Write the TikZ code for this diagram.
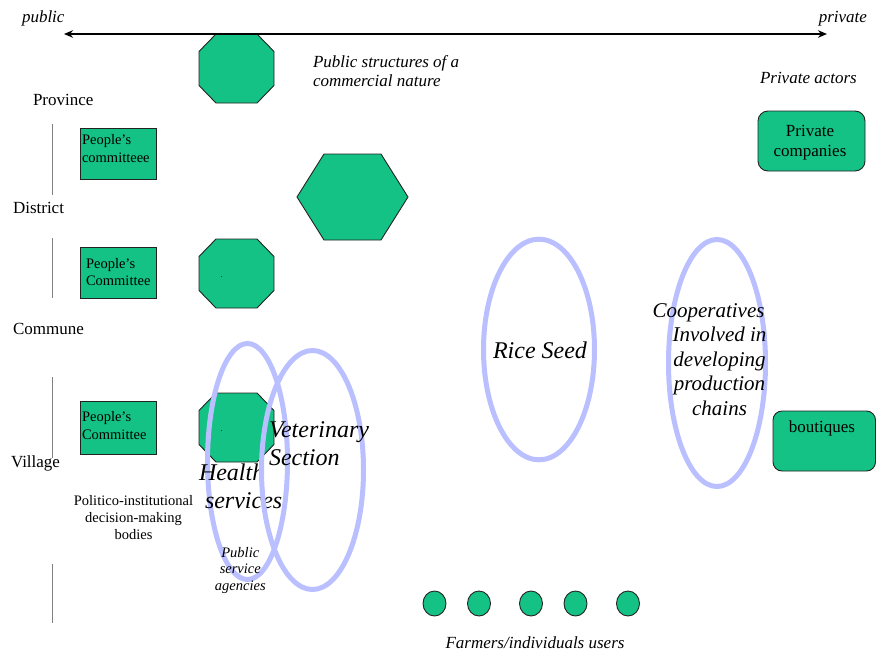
\documentclass[tikz,border=0pt]{standalone}
\usepackage{fontspec}
\setmainfont{Liberation Serif}
\usetikzlibrary{arrows.meta}
\definecolor{unitgreen}{RGB}{21,194,134}
\definecolor{ringblue}{RGB}{186,191,255}
\definecolor{edgegray}{RGB}{35,35,35}
\begin{document}
\begin{tikzpicture}[x=1pt,y=-1pt,
  every node/.style={inner sep=0pt, outer sep=0pt},
  lvl/.style={font=\fontsize{17}{19.5}\selectfont, anchor=base west},
  note/.style={font=\fontsize{17}{19}\selectfont\itshape},
  boxtext/.style={font=\fontsize{14.5}{17.5}\selectfont, align=left, anchor=base west},
  unit/.style={fill=unitgreen, draw=edgegray, line width=0.9pt},
  ring/.style={draw=ringblue, line width=5pt},
  bigtag/.style={font=\fontsize{24}{27.5}\selectfont\itshape},
  divider/.style={draw=gray, line width=1pt},
  axis/.style={line width=2pt, {Stealth[length=9pt,width=7.5pt]}-{Stealth[length=9pt,width=7.5pt]}},
  pics/octa/.style={code={\path[unit] (-20.5,-34.5) -- (20.5,-34.5) -- (37.5,-17) -- (37.5,17) -- (20.5,34.5) -- (-20.5,34.5) -- (-37.5,17) -- (-37.5,-17) -- cycle;}},
]
\useasboundingbox (0,0) rectangle (876,651);

% public / private axis
\coordinate (pubend) at (64,34);
\coordinate (privend) at (827,34);
\node[note, anchor=base west] (publbl) at (22,22) {public};
\node[note, anchor=base east] (privlbl) at (867,22) {private};

% public structures of a commercial nature
\pic at (236.5,68.5) {octa};
\draw[axis] (pubend) -- (privend);
\node[note, align=left, anchor=base west] (pubstruct) at (313,86) {Public structures of a\\commercial nature};

% administrative levels
\node[lvl] (province) at (33,105) {Province};
\node[lvl] (district) at (13,213.5) {District};
\node[lvl] (commune) at (13,334.5) {Commune};
\node[lvl] (village) at (11,467.5) {Village};
\draw[divider] (52,124) -- (52,195);
\draw[divider] (52,238) -- (52,298);
\draw[divider] (52,377) -- (52,458);
\draw[divider] (52,564) -- (52,623);

% people's committees (multi-line nodes sit on their last baseline)
\path[unit] (80,128) rectangle (156,179.5);
\node[boxtext] (pc1) at (82,162) {People’s\\committeee};
\path[unit] (80,247) rectangle (156.5,298.5);
\node[boxtext] (pc2) at (86,285.5) {People’s\\Committee};
\path[unit] (80,401.5) rectangle (156.5,454);
\node[boxtext] (pc3) at (82,439) {People’s\\Committee};

% hexagon and commune octagon
\path[unit] (324,154) -- (381,154) -- (408,197) -- (381,240) -- (324,240) -- (297,197) -- cycle;
\pic at (236.5,273.5) {octa};
\node[font=\fontsize{8}{9}\selectfont, anchor=base] (dot1) at (221.5,277) {.};

% village level services
\pic at (236.5,427.5) {octa};
\node[font=\fontsize{8}{9}\selectfont, anchor=base] (dot2) at (221.5,431) {.};
\draw[ring] (247.5,461.5) ellipse [x radius=40, y radius=118];
\node[bigtag, align=left, anchor=base west] (health) at (199,508) {Health\\\hspace*{6pt}services};
\draw[ring] (312.5,470) ellipse [x radius=51, y radius=119.5];
\node[bigtag, align=left, anchor=base west] (vet) at (269,465) {Veterinary\\Section};

\node[font=\fontsize{14.5}{16.7}\selectfont, align=center, anchor=base] (politico) at (133.5,539) {Politico-institutional\\decision-making\\bodies};
\node[font=\fontsize{14.5}{16.3}\selectfont\itshape, align=center, anchor=base] (agencies) at (240.3,590) {Public\\service\\agencies};

% rice seed
\draw[ring] (539,349.5) ellipse [x radius=55.5, y radius=110.3];
\node[bigtag, anchor=base] (rice) at (540,358.5) {Rice Seed};

% cooperatives
\draw[ring] (717,363) ellipse [x radius=48.5, y radius=123.5];
\node[font=\fontsize{21}{24.5}\selectfont\itshape, align=center, anchor=base] (coop) at (719.5,415) {Cooperatives\hspace*{22pt}\\Involved in\\developing\\production\\chains};

% private actors
\node[note, anchor=base west] (privact) at (760,83.5) {Private actors};
\path[unit, rounded corners=10pt] (758,111) rectangle (865,171);
\node[font=\fontsize{17}{19.5}\selectfont, align=center, anchor=base] (privco) at (810,156) {Private\\companies};
\path[unit, rounded corners=9pt] (773,411) rectangle (875.5,471);
\node[font=\fontsize{17}{19.5}\selectfont, anchor=base] (bout) at (822,432) {boutiques};

% farmers
\path[unit] (434.5,603.5) ellipse [x radius=11.5, y radius=12.5];
\path[unit] (479,603.5) ellipse [x radius=11.5, y radius=12.5];
\path[unit] (531,603.5) ellipse [x radius=11.5, y radius=12.5];
\path[unit] (575.5,603.5) ellipse [x radius=11.5, y radius=12.5];
\path[unit] (628,603.5) ellipse [x radius=11.5, y radius=12.5];
\node[note, anchor=base] (farmers) at (535,648.5) {Farmers/individuals users};
\end{tikzpicture}
\end{document}
